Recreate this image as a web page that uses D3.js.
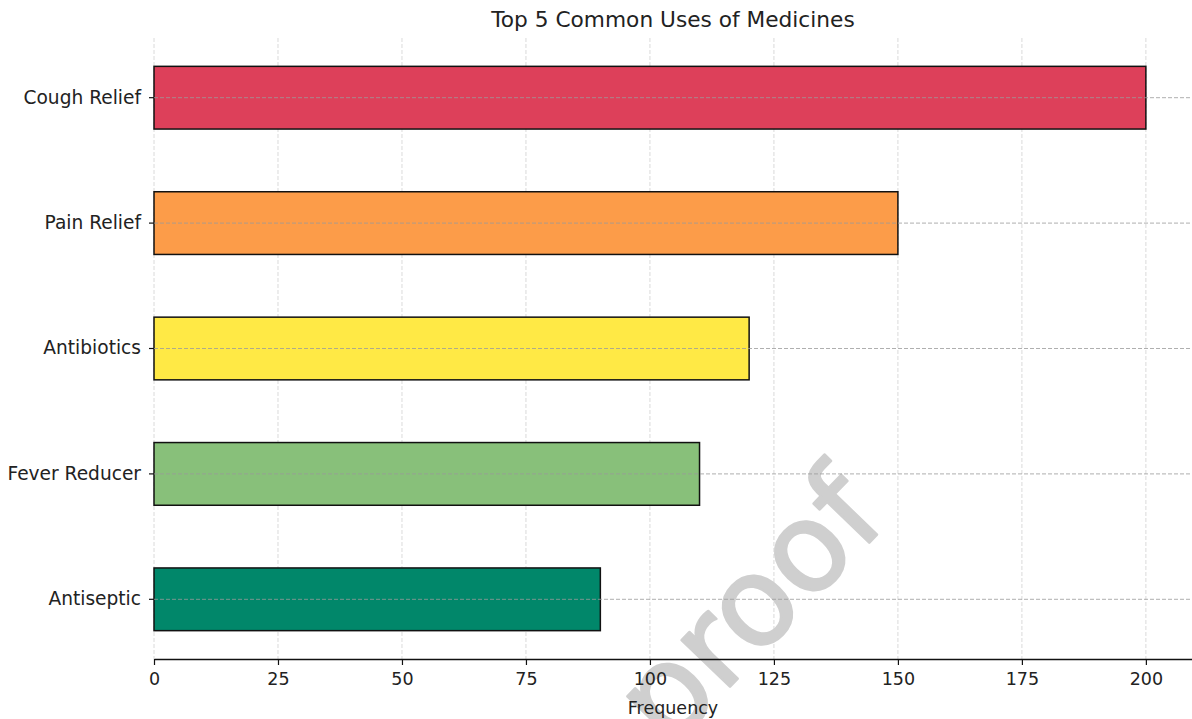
<!DOCTYPE html>
<html>
<head>
<meta charset="utf-8">
<script src="https://cdn.jsdelivr.net/npm/d3@7"></script>
<style>
    body { margin: 0; background: #fff; }
    svg { display: block; font-family: "DejaVu Sans", sans-serif; }
    .tick text { fill: #222; font-family: "DejaVu Sans", sans-serif; }
</style>
</head>
<body>
<div id="chart"></div>
<script>
// Top 5 Common Uses of Medicines - horizontal bars

const categories = ['Cough Relief', 'Pain Relief', 'Antibiotics', 'Fever Reducer', 'Antiseptic'];
const frequencies = [200, 150, 120, 110, 90];
const barColors = ['#dd405a', '#fc9c49', '#ffe945', '#88c07a', '#01876a'];
const xTicks = [0, 25, 50, 75, 100, 125, 150, 175, 200];

const width = 1192;
const height = 719;
const margin = { top: 38, right: 0, bottom: 60, left: 154 };

const svg = d3.select('#chart')
    .append('svg')
    .attr('width', width)
    .attr('height', height);

const x = d3.scaleLinear()
    .domain([0, 209.3])
    .range([margin.left, width - margin.right]);

const y = d3.scaleBand()
    .domain(categories)
    .range([margin.top, height - margin.bottom])
    .paddingInner(0.5)
    .paddingOuter(0.226);

// Watermark (under the grid)
svg.append('text')
    .attr('transform', 'translate(779,636) rotate(-46)')
    .attr('text-anchor', 'middle')
    .style('font-size', '123px')
    .style('fill', '#cfcfcf')
    .style('stroke', '#cfcfcf')
    .style('stroke-width', 2.5)
    .style('stroke-linejoin', 'round')
    .text('proof');

// Vertical grid (behind bars)
svg.append('g')
    .selectAll('line')
    .data(xTicks)
    .join('line')
    .attr('x1', d => x(d))
    .attr('x2', d => x(d))
    .attr('y1', margin.top)
    .attr('y2', height - margin.bottom)
    .attr('stroke', '#d0d0d0')
    .attr('stroke-width', 0.8)
    .attr('stroke-dasharray', '4,2');

// Bars
svg.append('g')
    .selectAll('rect')
    .data(categories)
    .join('rect')
    .attr('x', x(0))
    .attr('y', d => y(d))
    .attr('width', (d, i) => x(frequencies[i]) - x(0))
    .attr('height', y.bandwidth())
    .attr('fill', (d, i) => barColors[i])
    .attr('stroke', '#111')
    .attr('stroke-width', 1.5);

// Horizontal grid (over bars)
svg.append('g')
    .selectAll('line')
    .data(categories)
    .join('line')
    .attr('x1', margin.left)
    .attr('x2', width - margin.right)
    .attr('y1', d => y(d) + y.bandwidth() / 2)
    .attr('y2', d => y(d) + y.bandwidth() / 2)
    .attr('stroke', '#9a9a9a')
    .attr('stroke-width', 0.8)
    .attr('stroke-dasharray', '4,2');

// X axis
const xAxis = svg.append('g')
    .attr('transform', `translate(0,${height - margin.bottom})`)
    .call(d3.axisBottom(x).tickValues(xTicks).tickSize(6).tickPadding(8).tickSizeOuter(0));
xAxis.attr('font-family', null);
xAxis.select('.domain').attr('stroke', '#111').attr('stroke-width', 1.5);
xAxis.selectAll('.tick line').attr('stroke', '#111').attr('stroke-width', 1.2);
xAxis.selectAll('text').style('font-size', '17.5px');

// Y axis (no spine)
const yAxis = svg.append('g')
    .attr('transform', `translate(${margin.left},0)`)
    .call(d3.axisLeft(y).tickSize(5).tickPadding(8));
yAxis.attr('font-family', null);
yAxis.select('.domain').remove();
yAxis.selectAll('.tick line').attr('stroke', '#111').attr('stroke-width', 1.2);
yAxis.selectAll('text').style('font-size', '18.6px');

// Title and axis label
svg.append('text')
    .attr('x', (margin.left + width - margin.right) / 2)
    .attr('y', 27)
    .attr('text-anchor', 'middle')
    .style('font-size', '21.7px')
    .style('fill', '#222')
    .text('Top 5 Common Uses of Medicines');

svg.append('text')
    .attr('x', (margin.left + width - margin.right) / 2)
    .attr('y', 714)
    .attr('text-anchor', 'middle')
    .style('font-size', '17.5px')
    .style('fill', '#222')
    .text('Frequency');
</script>
</body>
</html>
